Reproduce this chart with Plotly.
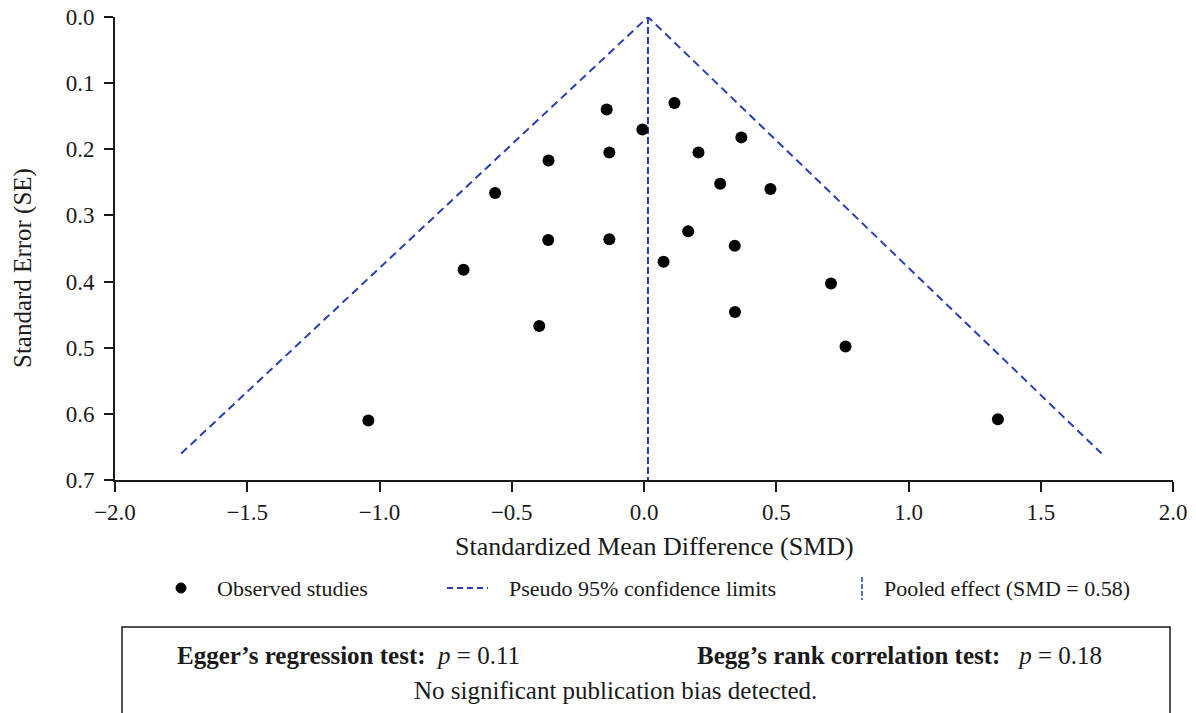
import plotly.graph_objects as go

# ---- data ----
smd = [-0.141, 0.115, -0.006, 0.368, -0.361, -0.131, 0.206, -0.563, 0.288, 0.478,
       -0.362, -0.131, 0.167, 0.343, 0.074, -0.682, 0.707, -0.396, 0.344, 0.762,
       -1.042, 1.338]
se = [0.140, 0.130, 0.170, 0.182, 0.217, 0.205, 0.205, 0.266, 0.252, 0.260,
      0.337, 0.336, 0.324, 0.346, 0.370, 0.382, 0.403, 0.467, 0.446, 0.498,
      0.610, 0.608]

funnel_x = [-1.75, 0.015, 1.73]
funnel_y = [0.66, 0.0, 0.66]
pooled_x = [0.015, 0.015]
pooled_y = [0.0, 0.7]

x_ticks = [-2.0, -1.5, -1.0, -0.5, 0.0, 0.5, 1.0, 1.5, 2.0]
y_ticks = [0.0, 0.1, 0.2, 0.3, 0.4, 0.5, 0.6, 0.7]

FONT = "Liberation Serif"
BLUE = "#2a3db5"
INK = "#1a1a1a"

fig = go.Figure()
fig.add_trace(go.Scatter(x=funnel_x, y=funnel_y, mode="lines",
                         line=dict(color=BLUE, width=2, dash="8px,5px"),
                         showlegend=False, hoverinfo="skip"))
fig.add_trace(go.Scatter(x=pooled_x, y=pooled_y, mode="lines",
                         line=dict(color=BLUE, width=2, dash="7px,3px"),
                         showlegend=False, hoverinfo="skip"))
fig.add_trace(go.Scatter(x=smd, y=se, mode="markers",
                         marker=dict(color="black", size=12),
                         showlegend=False))

L, R, T, B = 115, 23, 17, 233
W, H = 1196, 713
pw, ph = W - L - R, H - T - B


def px(xp):
    return (xp - L) / pw


def py(yp):
    return (H - B - yp) / ph


fig.update_layout(
    width=W, height=H,
    margin=dict(l=L, r=R, t=T, b=B, autoexpand=False),
    paper_bgcolor="white", plot_bgcolor="white",
    font=dict(family=FONT, size=22, color=INK),
    xaxis=dict(range=[-2, 2], tickvals=x_ticks, tickformat=".1f",
               showline=True, linecolor=INK, linewidth=2,
               ticks="outside", ticklen=10, tickwidth=2, tickcolor=INK,
               showgrid=False, zeroline=False, automargin=False,
               tickfont=dict(family=FONT, size=23, color=INK)),
    yaxis=dict(range=[0.7, 0], tickvals=y_ticks, tickformat=".1f",
               showline=True, linecolor=INK, linewidth=2,
               ticks="outside", ticklen=9, tickwidth=2, tickcolor=INK,
               showgrid=False, zeroline=False, automargin=False,
               ticklabelstandoff=5,
               tickfont=dict(family=FONT, size=23, color=INK)),
)

ann = []
# axis titles
ann.append(dict(x=px(654), y=py(546), xref="paper", yref="paper",
                text="Standardized Mean Difference (SMD)", showarrow=False,
                font=dict(family=FONT, size=26, color=INK),
                xanchor="center", yanchor="middle"))
ann.append(dict(x=px(23), y=py(268), xref="paper", yref="paper",
                text="Standard Error (SE)", showarrow=False, textangle=-90,
                font=dict(family=FONT, size=25, color=INK),
                xanchor="center", yanchor="middle"))
# legend texts
ly = py(588)
for xp, t in [(215, "Observed studies"),
              (507, "Pseudo 95% confidence limits"),
              (882, "Pooled effect (SMD = 0.58)")]:
    ann.append(dict(x=px(xp), y=ly, xref="paper", yref="paper", text=t,
                    showarrow=False, xanchor="left", yanchor="middle",
                    font=dict(family=FONT, size=22, color=INK)))
# box texts
ann.append(dict(x=px(175), y=py(655), xref="paper", yref="paper",
                text="<b>Egger’s regression test:</b>  <i>p</i> = 0.11",
                showarrow=False, xanchor="left", yanchor="middle",
                font=dict(family=FONT, size=25, color=INK)))
ann.append(dict(x=px(695), y=py(655), xref="paper", yref="paper",
                text="<b>Begg’s rank correlation test:</b>   <i>p</i> = 0.18",
                showarrow=False, xanchor="left", yanchor="middle",
                font=dict(family=FONT, size=25, color=INK)))
ann.append(dict(x=px(615), y=py(690), xref="paper", yref="paper",
                text="No significant publication bias detected.",
                showarrow=False, xanchor="center", yanchor="middle",
                font=dict(family=FONT, size=25, color=INK)))
fig.update_layout(annotations=ann)

shapes = []
# legend keys
shapes.append(dict(type="circle", xref="paper", yref="paper",
                   xsizemode="pixel", ysizemode="pixel",
                   xanchor=px(181), yanchor=ly, x0=-5, x1=5, y0=-5, y1=5,
                   fillcolor="black", line=dict(color="black", width=1)))
shapes.append(dict(type="line", xref="paper", yref="paper",
                   x0=px(447), x1=px(488), y0=ly, y1=ly,
                   line=dict(color=BLUE, width=2, dash="6px,4px")))
shapes.append(dict(type="line", xref="paper", yref="paper",
                   x0=px(862), x1=px(862), y0=py(577), y1=py(600),
                   line=dict(color=BLUE, width=1.5, dash="5px,2px")))
# statistics box
shapes.append(dict(type="rect", xref="paper", yref="paper",
                   x0=px(122), x1=px(1170), y0=py(627), y1=py(760),
                   line=dict(color=INK, width=1.5), fillcolor="rgba(0,0,0,0)"))
fig.update_layout(shapes=shapes)

fig.write_html("out.html")
